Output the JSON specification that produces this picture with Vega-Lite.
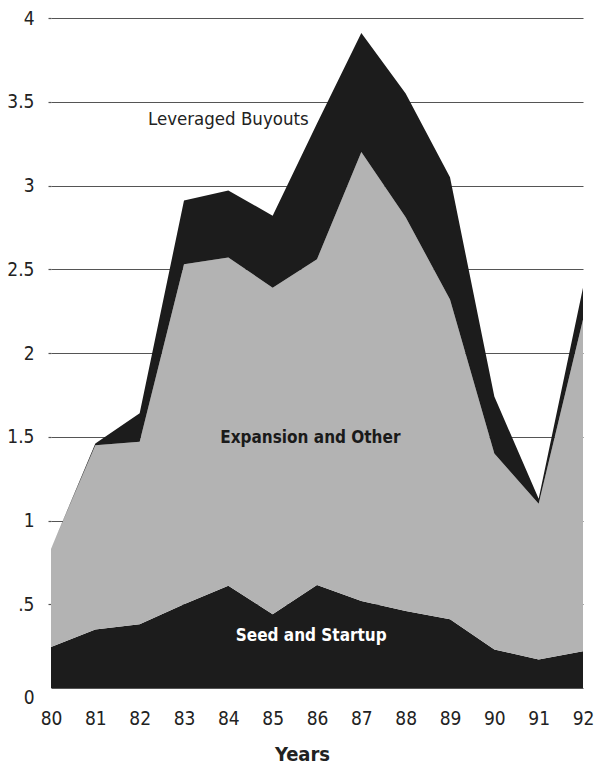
{
  "$schema": "https://vega.github.io/schema/vega-lite/v6.json",
  "width": 532,
  "height": 670,
  "autosize": {"type": "none"},
  "padding": {"left": 51, "top": 18, "right": 14, "bottom": 77},
  "background": "white",
  "config": {
    "view": {"stroke": null},
    "font": "DejaVu Sans Condensed, Liberation Sans Narrow, sans-serif"
  },
  "layer": [
    {
      "data": {
        "values": [
          {"year": 80, "series": "Seed and Startup", "value": 0.245},
          {"year": 81, "series": "Seed and Startup", "value": 0.35},
          {"year": 82, "series": "Seed and Startup", "value": 0.38},
          {"year": 83, "series": "Seed and Startup", "value": 0.50},
          {"year": 84, "series": "Seed and Startup", "value": 0.61},
          {"year": 85, "series": "Seed and Startup", "value": 0.44},
          {"year": 86, "series": "Seed and Startup", "value": 0.615},
          {"year": 87, "series": "Seed and Startup", "value": 0.52},
          {"year": 88, "series": "Seed and Startup", "value": 0.46},
          {"year": 89, "series": "Seed and Startup", "value": 0.41},
          {"year": 90, "series": "Seed and Startup", "value": 0.23},
          {"year": 91, "series": "Seed and Startup", "value": 0.17},
          {"year": 92, "series": "Seed and Startup", "value": 0.22},
          {"year": 80, "series": "Expansion and Other", "value": 0.585},
          {"year": 81, "series": "Expansion and Other", "value": 1.10},
          {"year": 82, "series": "Expansion and Other", "value": 1.09},
          {"year": 83, "series": "Expansion and Other", "value": 2.03},
          {"year": 84, "series": "Expansion and Other", "value": 1.96},
          {"year": 85, "series": "Expansion and Other", "value": 1.95},
          {"year": 86, "series": "Expansion and Other", "value": 1.945},
          {"year": 87, "series": "Expansion and Other", "value": 2.68},
          {"year": 88, "series": "Expansion and Other", "value": 2.35},
          {"year": 89, "series": "Expansion and Other", "value": 1.91},
          {"year": 90, "series": "Expansion and Other", "value": 1.17},
          {"year": 91, "series": "Expansion and Other", "value": 0.93},
          {"year": 92, "series": "Expansion and Other", "value": 1.98},
          {"year": 80, "series": "Leveraged Buyouts", "value": 0.0},
          {"year": 81, "series": "Leveraged Buyouts", "value": 0.01},
          {"year": 82, "series": "Leveraged Buyouts", "value": 0.17},
          {"year": 83, "series": "Leveraged Buyouts", "value": 0.38},
          {"year": 84, "series": "Leveraged Buyouts", "value": 0.40},
          {"year": 85, "series": "Leveraged Buyouts", "value": 0.43},
          {"year": 86, "series": "Leveraged Buyouts", "value": 0.81},
          {"year": 87, "series": "Leveraged Buyouts", "value": 0.71},
          {"year": 88, "series": "Leveraged Buyouts", "value": 0.74},
          {"year": 89, "series": "Leveraged Buyouts", "value": 0.73},
          {"year": 90, "series": "Leveraged Buyouts", "value": 0.34},
          {"year": 91, "series": "Leveraged Buyouts", "value": 0.03},
          {"year": 92, "series": "Leveraged Buyouts", "value": 0.19}
        ]
      },
      "transform": [
        {"calculate": "indexof(['Seed and Startup','Expansion and Other','Leveraged Buyouts'], datum.series)", "as": "ord"}
      ],
      "mark": {"type": "area", "interpolate": "linear"},
      "encoding": {
        "x": {
          "field": "year", "type": "quantitative",
          "scale": {"domain": [80, 92], "nice": false, "zero": false},
          "axis": {
            "values": [80, 81, 82, 83, 84, 85, 86, 87, 88, 89, 90, 91, 92],
            "format": "d",
            "grid": false, "domain": false, "ticks": false,
            "labelPadding": 21, "labelFontSize": 19, "labelColor": "#222",
            "labelFlush": false, "labelOverlap": false,
            "title": "Years", "titleFontSize": 20, "titleFontWeight": "bold",
            "titleColor": "#222", "titleX": 251, "titleY": 72,
            "titleBaseline": "alphabetic"
          }
        },
        "y": {
          "field": "value", "type": "quantitative", "stack": "zero",
          "scale": {"domain": [0, 4], "nice": false},
          "axis": {
            "values": [0, 0.5, 1, 1.5, 2, 2.5, 3, 3.5, 4],
            "labelExpr": "datum.value === 0.5 ? '.5' : format(datum.value, '~g')",
            "grid": true, "gridColor": "#555", "gridWidth": 1.2,
            "domain": false, "tickSize": 3, "tickWidth": 1.2,
            "tickColor": {"condition": {"test": "datum.value === 0", "value": "transparent"}, "value": "#555"},
            "labelBaseline": {"condition": {"test": "datum.value === 0", "value": "top"}, "value": "middle"},
            "labelPadding": 14, "labelFontSize": 19, "labelColor": "#222",
            "labelFlush": false, "labelOverlap": false,
            "title": null
          }
        },
        "color": {
          "field": "series", "type": "nominal",
          "scale": {
            "domain": ["Seed and Startup", "Expansion and Other", "Leveraged Buyouts"],
            "range": ["#1c1c1c", "#b3b3b3", "#1c1c1c"]
          },
          "legend": null
        },
        "order": {"field": "ord", "type": "quantitative"}
      }
    },
    {
      "data": {"values": [{"year": 84.0, "value": 3.40, "label": "Leveraged Buyouts"}]},
      "mark": {"type": "text", "align": "center", "baseline": "middle", "fontSize": 18.5, "color": "#222"},
      "encoding": {
        "x": {"field": "year", "type": "quantitative"},
        "y": {"field": "value", "type": "quantitative"},
        "text": {"field": "label"}
      }
    },
    {
      "data": {"values": [{"year": 85.85, "value": 1.49, "label": "Expansion and Other"}]},
      "mark": {"type": "text", "align": "center", "baseline": "middle", "fontSize": 17, "fontWeight": "bold", "color": "#1a1a1a"},
      "encoding": {
        "x": {"field": "year", "type": "quantitative"},
        "y": {"field": "value", "type": "quantitative"},
        "text": {"field": "label"}
      }
    },
    {
      "data": {"values": [{"year": 85.87, "value": 0.31, "label": "Seed and Startup"}]},
      "mark": {"type": "text", "align": "center", "baseline": "middle", "fontSize": 17, "fontWeight": "bold", "color": "white"},
      "encoding": {
        "x": {"field": "year", "type": "quantitative"},
        "y": {"field": "value", "type": "quantitative"},
        "text": {"field": "label"}
      }
    }
  ]
}
